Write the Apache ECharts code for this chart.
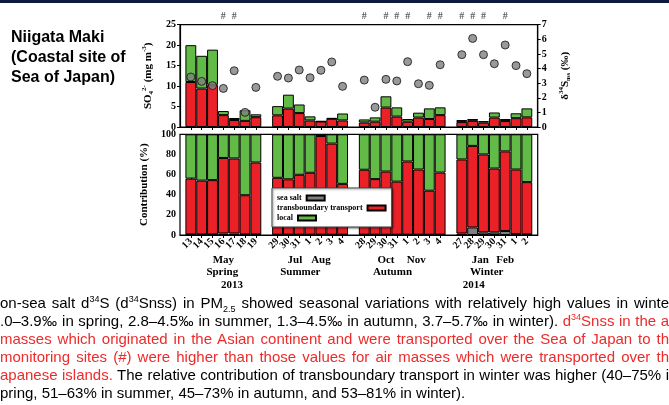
<!DOCTYPE html>
<html><head><meta charset="utf-8">
<script src="https://cdn.jsdelivr.net/npm/echarts@6/dist/echarts.min.js"></script>
<style>
html,body{margin:0;padding:0;background:#fff;}
#wrap{position:relative;width:669px;height:405px;overflow:hidden;}
#chart{position:absolute;left:0;top:0;width:669px;height:405px;}
.ln{position:absolute;left:0;width:669px;white-space:nowrap;font-family:'Liberation Sans Narrow','Liberation Sans',Arial,sans-serif;font-size:15px;line-height:18px;color:#000;text-align:justify;text-align-last:justify;}
.last{text-align:left;text-align-last:left;}
.red{color:#ee2a2a;}
sup,sub{font-size:9px;line-height:0;}
</style></head>
<body>
<div id="wrap">
<div id="chart"></div>
<div class="ln" style="top:294px">on-sea salt d<sup>34</sup>S (d<sup>34</sup>Snss) in PM<sub>2.5</sub> showed seasonal variations with relatively high values in winte</div>
<div class="ln" style="top:312px">.0–3.9‰ in spring, 2.8–4.5‰ in summer, 1.3–4.5‰ in autumn, 3.7–5.7‰ in winter). <span class="red">d<sup>34</sup>Snss in the a</span></div>
<div class="ln red" style="top:330px">masses which originated in the Asian continent and were transported over the Sea of Japan to th</div>
<div class="ln red" style="top:348px">monitoring sites (#) were higher than those values for air masses which were transported over th</div>
<div class="ln" style="top:366px"><span class="red">apanese islands.</span> The relative contribution of transboundary transport in winter was higher (40–75% i</div>
<div class="ln last" style="top:384px">pring, 51–63% in summer, 45–73% in autumn, and 53–81% in winter).</div>
</div>
<script>
// ---- data ----
const dayLabels = ['13','14','15','16','17','18','19',
  '29','30','31','1','2','3','4',
  '28','29','30','31','1','2','3','4',
  '27','28','29','30','31','1','2'];
const groupSizes = [7, 7, 8, 7];
const monthNames = ['May','Jul','Aug','Oct','Nov','Jan','Feb'];
const monthAt = [3, 9.6, 12, 18, 20.8, 26.7, 29];
const seasonNames = ['Spring','Summer','Autumn','Winter'];
const seasonAt = [2.9, 10.1, 18.6, 27.3];
const yearNames = ['2013','2014'];
const yearAt = [3.8, 26.1];

// SO4 2- concentration (stacked)
const so4Trans = [11.0, 9.4, 10.3, 2.9, 1.7, 1.5, 2.4,
  2.85, 4.5, 3.4, 1.6, 1.35, 2.0, 1.6,
  1.1, 1.3, 4.75, 2.55, 1.3, 2.3, 1.95, 2.9,
  1.2, 1.5, 1.05, 2.3, 1.45, 2.15, 2.35];
const so4Local = [9.0, 8.0, 8.6, 1.0, 0.5, 2.6, 0.7,
  2.25, 3.4, 2.1, 1.0, 0.05, 0.2, 1.7,
  0.75, 1.05, 2.75, 2.25, 0.65, 1.2, 2.6, 1.9,
  0.5, 0.45, 0.4, 1.25, 0.5, 1.2, 2.2];
// delta34S nss (permil)
const d34S = [3.42, 3.12, 2.83, 2.64, 3.85, 1.0, 2.71,
  3.47, 3.35, 3.9, 3.37, 3.88, 4.45, 2.78,
  3.21, 1.35, 3.26, 3.15, 4.47, 2.96, 2.85, 4.26,
  4.95, 6.06, 4.95, 4.33, 5.61, 4.2, 3.65];
// '#' : air masses transported over the Sea of Japan
const hashMark = [0,0,0,1,1,0,0,
  0,0,0,0,0,0,0,
  1,0,1,1,1,0,1,1,
  1,1,1,0,1,0,0];
// contribution (%)
const pctSeaSalt = [0.5,0.5,0.5,1.5,1.5,0.5,0.5,
  0.3,0.3,0.3,0.3,0.3,0.3,0.3,
  0.3,0.3,0.3,0.3,0.3,0.3,0.3,0.3,
  1.5,7.5,2.5,2.5,4,1,0.5];
const pctTrans = [55.5,53.5,54,75,74.5,39,71.5,
  56.5,55,59.5,61.5,98,90.5,50.5,
  64.5,55.2,62.7,52.7,72.7,64.7,43.7,61.7,
  73.5,81,77.5,63.5,79,64,52];
const pctLocal = [44,46,45.5,23.5,24,60.5,28,
  43.2,44.7,40.2,38.2,1.7,9.2,49.2,
  35.2,44.5,37,47,27,35,56,38,
  25,11.5,20,34,17,35,47.5];

// ---- layout helpers ----
// category slots: one empty pad slot at each end, one empty slot between groups
const barCat = [];
(function(){ let c = 1; groupSizes.forEach(n => { for (let i = 0; i < n; i++) barCat.push(c++); c++; }); })();
const nCat = barCat[barCat.length-1] + 2;           // 34 categories incl. pads
const cats = Array.from({length: nCat}, (_, j) => String(j));
const isBar = j => barCat.indexOf(j) >= 0;
const dayOf = j => { const i = barCat.indexOf(j); return i < 0 ? '' : dayLabels[i]; };

const GL = 180, GW = 357.7;
const RED = '#ec2027', GREEN = '#63bb47', GRAY = '#7f7f7f';
const serif = 'Liberation Serif';
const lab = {fontFamily: serif, fontWeight: 'bold', fontSize: 10, color: '#000'};
const line = {show: true, lineStyle: {color: '#000', width: 1.2}};

function lookup(names, at) { return v => { const i = at.findIndex(a => Math.abs(a - v) < 1e-6); return i < 0 ? '' : names[i]; }; }
const pair = arr => barCat.map((c, i) => [c, arr[i]]);
const barStyle = c => ({color: c, borderColor: '#000', borderWidth: 1});
const catAxis = (grid, pos, extra) => Object.assign({gridIndex: grid, type: 'category', data: cats, boundaryGap: false, position: pos,
  axisLine: line, axisLabel: {show: false}, splitLine: {show: false}}, extra);
const lvlAxis = (names, at, margin) => ({gridIndex: 1, type: 'value', min: -1, max: nCat - 2, position: 'bottom',
  axisLine: {show: false}, axisTick: {show: false}, splitLine: {show: false},
  axisLabel: Object.assign({}, lab, {fontSize: 11, customValues: at, margin: margin, showMinLabel: true, showMaxLabel: true, formatter: lookup(names, at)})});
const legText = {fontFamily: serif, fontWeight: 'bold', fontSize: 8, lineHeight: 8, color: '#000'};
const legBase = {orient: 'horizontal', align: 'right', icon: 'rect', itemWidth: 18, itemHeight: 5, selectedMode: false, textStyle: legText};

const chart = echarts.init(document.getElementById('chart'), null, {renderer: 'canvas'});
chart.setOption({
  animation: false,
  backgroundColor: '#fff',
  graphic: [{type: 'rect', left: 0, top: 0, shape: {width: 669, height: 3}, style: {fill: '#0e1a3d'}}],
  title: {text: 'Niigata Maki\n(Coastal site of\nSea of Japan)', left: 6, top: 23,
    textStyle: {fontFamily: 'Liberation Sans', fontWeight: 'bold', fontSize: 16, lineHeight: 20, color: '#000'}},
  legend: [
    Object.assign({}, legBase, {data: ['sea salt'], left: 272, top: 188, padding: [6, 66, 25, 5],
      backgroundColor: '#fff', borderColor: '#444', borderWidth: 1,
      shadowColor: 'rgba(0,0,0,0.45)', shadowBlur: 2, shadowOffsetX: 1, shadowOffsetY: 1}),
    Object.assign({}, legBase, {data: ['transboundary transport'], left: 277, top: 204, padding: 0}),
    Object.assign({}, legBase, {data: ['local'], left: 277, top: 214, padding: 0})
  ],
  grid: [
    {left: GL, top: 24.7, width: GW, height: 102.3, show: true, borderColor: '#000', borderWidth: 1.2, backgroundColor: 'transparent'},
    {left: GL, top: 134.3, width: GW, height: 100.7, show: true, borderColor: '#000', borderWidth: 1.2, backgroundColor: 'transparent'}
  ],
  xAxis: [
    catAxis(0, 'bottom', {axisTick: {show: true, interval: isBar, length: 3, lineStyle: {color: '#000'}}}),
    catAxis(0, 'top', {axisTick: {show: true, inside: true, interval: isBar, length: 3, lineStyle: {color: '#000'}}}),
    catAxis(1, 'bottom', {axisTick: {show: true, interval: isBar, length: 3, lineStyle: {color: '#000'}},
      axisLabel: Object.assign({show: true, interval: 0, rotate: 45, margin: 5, showMinLabel: false, showMaxLabel: false, hideOverlap: false,
        formatter: (v) => dayOf(+v)}, lab)}),
    lvlAxis(monthNames, monthAt, 20),
    lvlAxis(seasonNames, seasonAt, 32),
    lvlAxis(yearNames, yearAt, 45)
  ],
  yAxis: [
    {gridIndex: 0, type: 'value', min: 0, max: 25, interval: 5, position: 'left', axisLine: line,
      axisTick: {show: true, length: 3, lineStyle: {color: '#000'}}, axisLabel: Object.assign({margin: 4}, lab), splitLine: {show: false},
      name: '{b|SO}{sub|4}{sup|2-}{b| (mg m}{sup|-3}{b|)}', nameLocation: 'middle', nameGap: 24, nameRotate: 90,
      nameTextStyle: {rich: {
        b: {fontFamily: serif, fontWeight: 'bold', fontSize: 11, lineHeight: 14, color: '#000'},
        sub: {fontFamily: serif, fontWeight: 'bold', fontSize: 7, lineHeight: 14, verticalAlign: 'bottom', color: '#000'},
        sup: {fontFamily: serif, fontWeight: 'bold', fontSize: 7, lineHeight: 14, verticalAlign: 'top', color: '#000'}}}},
    {gridIndex: 0, type: 'value', min: 0, max: 7, interval: 1, position: 'right', axisLine: line,
      axisTick: {show: true, length: 3, lineStyle: {color: '#000'}}, axisLabel: Object.assign({margin: 4}, lab), splitLine: {show: false},
      name: '{b|δ}{sup|34}{b|S}{sub|nss}{b| (‰)}', nameLocation: 'middle', nameGap: 20, nameRotate: 90,
      nameTextStyle: {rich: {
        b: {fontFamily: serif, fontWeight: 'bold', fontSize: 11, lineHeight: 14, color: '#000'},
        sub: {fontFamily: serif, fontWeight: 'bold', fontSize: 6, lineHeight: 14, verticalAlign: 'bottom', color: '#000'},
        sup: {fontFamily: serif, fontWeight: 'bold', fontSize: 7, lineHeight: 14, verticalAlign: 'top', color: '#000'}}}},
    {gridIndex: 1, type: 'value', min: 0, max: 100, interval: 20, position: 'left', axisLine: line,
      axisTick: {show: true, length: 3, lineStyle: {color: '#000'}}, axisLabel: Object.assign({margin: 4}, lab), splitLine: {show: false},
      name: 'Contribution (%)', nameLocation: 'middle', nameGap: 24, nameRotate: 90,
      nameTextStyle: {fontFamily: serif, fontWeight: 'bold', fontSize: 11, color: '#000'}}
  ],
  series: [
    {name: 'transboundary transport', type: 'bar', xAxisIndex: 0, yAxisIndex: 0, stack: 'conc', barWidth: '100%',
      data: pair(so4Trans), itemStyle: barStyle(RED)},
    {name: 'local', type: 'bar', xAxisIndex: 0, yAxisIndex: 0, stack: 'conc', barWidth: '100%',
      data: pair(so4Local), itemStyle: barStyle(GREEN)},
    {name: 'd34S', type: 'scatter', xAxisIndex: 0, yAxisIndex: 1, symbolSize: 8, z: 5,
      data: pair(d34S), itemStyle: {color: GRAY, borderColor: '#111', borderWidth: 1}},
    {name: 'hash', type: 'scatter', xAxisIndex: 0, yAxisIndex: 0, symbolSize: 0, clip: false,
      data: barCat.map((c, i) => [c, 25, hashMark[i]]).filter(d => d[2] === 1),
      label: {show: true, position: 'top', distance: 3, formatter: '#', fontFamily: serif, fontWeight: 'bold', fontSize: 10, color: '#333'}},
    {name: 'sea salt', type: 'bar', xAxisIndex: 2, yAxisIndex: 2, stack: 'pct', barWidth: '100%',
      data: pair(pctSeaSalt), itemStyle: barStyle(GRAY)},
    {name: 'transboundary transport', type: 'bar', xAxisIndex: 2, yAxisIndex: 2, stack: 'pct', barWidth: '100%',
      data: pair(pctTrans), itemStyle: barStyle(RED)},
    {name: 'local', type: 'bar', xAxisIndex: 2, yAxisIndex: 2, stack: 'pct', barWidth: '100%',
      data: pair(pctLocal), itemStyle: barStyle(GREEN)}
  ]
});
</script>
</body></html>
